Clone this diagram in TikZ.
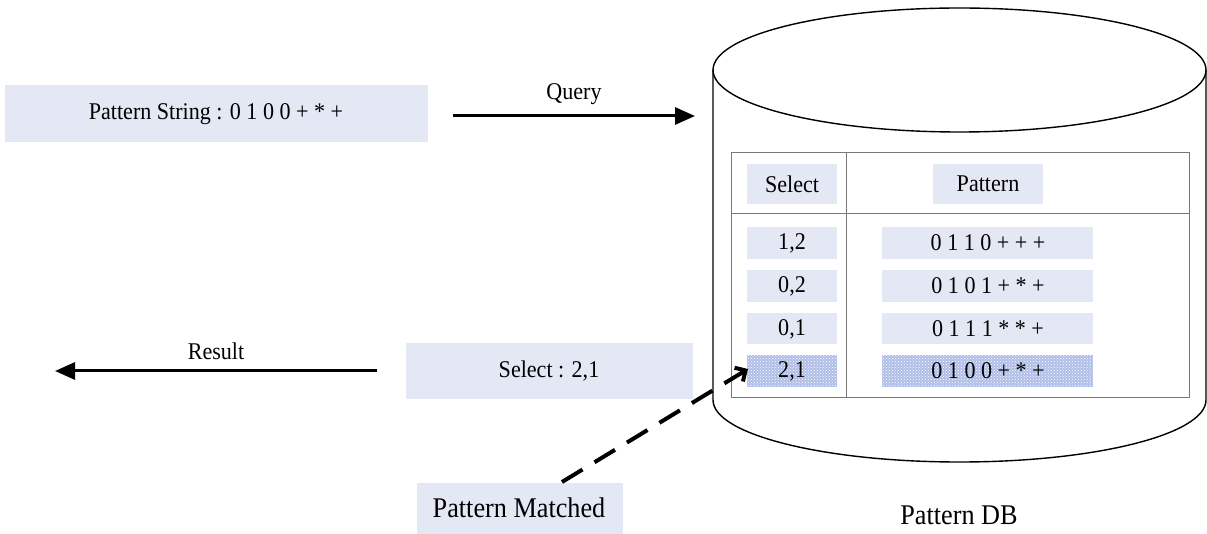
\documentclass[tikz,border=0pt]{standalone}
\usepackage{fontspec}
\setmainfont{Liberation Serif}[FakeStretch=0.92]
\usetikzlibrary{arrows.meta,patterns}

\definecolor{cellfill}{RGB}{228,232,244}
\definecolor{hitfill}{RGB}{176,190,232}
\definecolor{gridline}{RGB}{120,120,120}

\tikzset{
  hitbox/.style={fill=hitfill, postaction={pattern=crosshatch dots, pattern color=white}},
  bigtext/.style={font=\fontsize{24}{28}\selectfont},
  hugetext/.style={font=\fontsize{28.5}{32}\selectfont},
  celltext/.style={font=\fontsize{24}{27}\selectfont},
  flow/.style={line width=3pt, -{Triangle[length=20pt,width=17pt]}},
}

\begin{document}
\begin{tikzpicture}[x=1pt,y=-1pt]
\useasboundingbox (0,0) rectangle (1207,534);

% database cylinder
\draw[line width=1.4pt, fill=white]
  (713,70) -- (713,400) arc[start angle=180,end angle=0,x radius=246.5,y radius=62]
  -- (1206,70);
\draw[line width=1.4pt] (959.5,70) ellipse[x radius=246.5,y radius=62];

% table inside the cylinder
\draw[gridline, line width=1pt] (731,153) rectangle (1189,397);
\draw[gridline, line width=1pt] (846,153) -- (846,397);
\draw[gridline, line width=1pt] (731,214) -- (1189,214);

% header cells
\fill[cellfill] (747,164) rectangle (837,204);
\fill[cellfill] (933,164) rectangle (1043,204);
\node[celltext] (hsel) at (792,184) {Select};
\node[celltext] (hpat) at (988,184) {Pattern};

% body cells
\fill[cellfill] (747,227) rectangle (837,259);
\fill[cellfill] (882,227) rectangle (1093,259);
\fill[cellfill] (747,270) rectangle (837,302);
\fill[cellfill] (882,270) rectangle (1093,302);
\fill[cellfill] (747,313) rectangle (837,344);
\fill[cellfill] (882,313) rectangle (1093,344);
\fill[hitbox] (747,355) rectangle (837,387);
\fill[hitbox] (882,355) rectangle (1093,387);

\node[celltext] (s1) at (792,243) {1,2};
\node[celltext] (p1) at (988,243) {0 1 1 0 + + +};
\node[celltext] (s2) at (792,286) {0,2};
\node[celltext] (p2) at (988,286) {0 1 0 1 + * +};
\node[celltext] (s3) at (792,329) {0,1};
\node[celltext] (p3) at (988,329) {0 1 1 1 * * +};
\node[celltext] (s4) at (792,371) {2,1};
\node[celltext] (p4) at (988,371) {0 1 0 0 + * +};

% query string and result boxes
\fill[cellfill] (5,85) rectangle (428,142);
\node[bigtext] (query) at (216,114) {Pattern String : 0 1 0 0 + * +};
\fill[cellfill] (406,343) rectangle (693,399);
\node[bigtext] (sel) at (549,371) {Select : 2,1};
\fill[cellfill] (417,483) rectangle (623,534);
\node[hugetext] (match) at (519,508) {Pattern Matched};

\node[hugetext] (dbname) at (959,515) {Pattern DB};

% connectors
\coordinate (qs) at (453,116);
\coordinate (qe) at (695,116);
\draw[flow] (qs) -- node[above=6pt, bigtext] (qlab) {Query} (qe);

\coordinate (rs) at (377,371);
\coordinate (re) at (55,371);
\draw[flow] (rs) -- node[above=6pt, bigtext] (rlab) {Result} (re);

\coordinate (ms) at (562,482);
\coordinate (me) at (748,369);
\draw[line width=4pt, dash pattern=on 24pt off 14pt, -{Straight Barb[length=8pt,width=16pt]}] (ms) -- (me);
\end{tikzpicture}
\end{document}
